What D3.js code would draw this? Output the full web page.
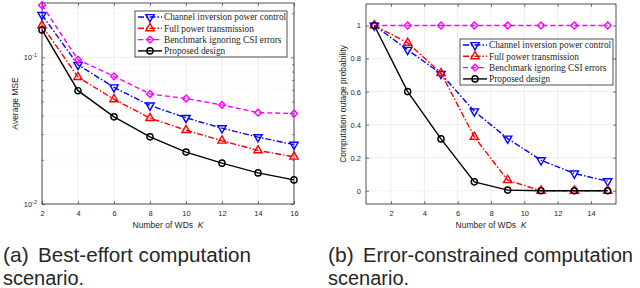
<!DOCTYPE html>
<html>
<head>
<meta charset="utf-8">
<script src="https://d3js.org/d3.v7.min.js"></script>
<style>
  body { margin: 0; background: #fff; }
  svg text { fill: #262626; }
</style>
</head>
<body>
<svg id="chart" width="640" height="288"></svg>
<script>
// series names, shared by both panels
const seriesNames = [
  "Channel inversion power control",
  "Full power transmission",
  "Benchmark ignoring CSI errors",
  "Proposed design"
];

// (a) best-effort: average MSE vs number of WDs
const kA = [2, 4, 6, 8, 10, 12, 14, 16];
const mseChannelInv = [0.195, 0.089, 0.0625, 0.047, 0.0387, 0.0329, 0.0286, 0.0254];
const mseFullPower = [0.165, 0.0734, 0.0518, 0.0385, 0.0319, 0.027, 0.0232, 0.021];
const mseBenchmark = [0.227, 0.0964, 0.0743, 0.0563, 0.0524, 0.0474, 0.042, 0.0414];
const mseProposed = [0.154, 0.0593, 0.0393, 0.0287, 0.0226, 0.019, 0.0163, 0.0146];
const xTicksA = [2, 4, 6, 8, 10, 12, 14, 16];
const yTicksA = [0.01, 0.1];
const yMinorA = [0.02, 0.03, 0.04, 0.05, 0.06, 0.07, 0.08, 0.09, 0.2];

// (b) error-constrained: computation outage probability
const kB = [1, 3, 5, 7, 9, 11, 13, 15];
const outChannelInv = [1, 0.853, 0.708, 0.481, 0.316, 0.185, 0.105, 0.058];
const outFullPower = [1, 0.895, 0.712, 0.326, 0.064, 0, 0, 0];
const outBenchmark = [1, 1, 1, 1, 1, 1, 1, 1];
const outProposed = [1, 0.6, 0.314, 0.054, 0.004, 0, 0, 0];
const xTicksB = [2, 4, 6, 8, 10, 12, 14];
const yTicksB = [0, 0.2, 0.4, 0.6, 0.8, 1];

const captions = [
  ["(a)", "Best-effort computation", "scenario."],
  ["(b)", "Error-constrained computation", "scenario."]
];

const styles = [
  { color: "#0000ff", dash: "6,2,1.5,2", symbol: "down" },
  { color: "#ff0000", dash: "6,2,1.5,2", symbol: "up" },
  { color: "#ff00ff", dash: "5,3", symbol: "diamond" },
  { color: "#000000", dash: null, symbol: "circle" }
];

const svg = d3.select("#chart");
const AXIS = "#262626";
const SANS = "Liberation Sans, Arial, sans-serif";

function markerPath(kind) {
  if (kind === "circle") return d3.symbol(d3.symbolCircle, 30)();
  if (kind === "diamond") return d3.symbol(d3.symbolDiamond2 || d3.symbolSquare, 30)();
  return d3.symbol(d3.symbolTriangle, 30)();
}

function drawPanel(cfg) {
  const g = svg.append("g");
  const x = cfg.x, y = cfg.y;
  const [x0, x1] = x.range();
  const [y0, y1] = y.range(); // y0 bottom, y1 top

  // grid
  if (cfg.minor) {
    g.append("g").selectAll("line").data(cfg.minor).join("line")
      .attr("x1", x0).attr("x2", x1)
      .attr("y1", d => y(d)).attr("y2", d => y(d))
      .attr("stroke", "#e2e2e2").attr("stroke-width", 0.6)
      .attr("stroke-dasharray", "1,1.5");
  }
  g.append("g").selectAll("line").data(cfg.xTicks).join("line")
    .attr("x1", d => x(d)).attr("x2", d => x(d))
    .attr("y1", y0).attr("y2", y1)
    .attr("stroke", "#e6e6e6").attr("stroke-width", 0.7);
  g.append("g").selectAll("line").data(cfg.yTicks).join("line")
    .attr("x1", x0).attr("x2", x1)
    .attr("y1", d => y(d)).attr("y2", d => y(d))
    .attr("stroke", "#e6e6e6").attr("stroke-width", 0.7);

  // axes with inward ticks on all four sides
  g.append("g").attr("transform", `translate(0,${y0})`)
    .call(d3.axisBottom(x).tickValues(cfg.xTicks).tickSizeInner(-3).tickSizeOuter(0).tickPadding(7));
  g.append("g").attr("transform", `translate(0,${y1})`)
    .call(d3.axisTop(x).tickValues(cfg.xTicks).tickSizeInner(-3).tickSizeOuter(0).tickFormat(""));
  const left = g.append("g").attr("transform", `translate(${x0},0)`)
    .call(d3.axisLeft(y).tickValues(cfg.yTicks).tickSizeInner(-3).tickSizeOuter(0).tickPadding(5).tickFormat(cfg.yFormat));
  g.append("g").attr("transform", `translate(${x1},0)`)
    .call(d3.axisRight(y).tickValues(cfg.yTicks).tickSizeInner(-3).tickSizeOuter(0).tickFormat(""));
  if (cfg.minor) {
    g.append("g").attr("transform", `translate(${x0},0)`)
      .call(d3.axisLeft(y).tickValues(cfg.minor).tickSizeInner(-1.8).tickSizeOuter(0).tickFormat(""));
    g.append("g").attr("transform", `translate(${x1},0)`)
      .call(d3.axisRight(y).tickValues(cfg.minor).tickSizeInner(-1.8).tickSizeOuter(0).tickFormat(""));
  }
  g.selectAll(".domain").remove();
  g.selectAll(".tick line").attr("stroke", AXIS).attr("stroke-width", 0.6);
  g.selectAll(".tick text").attr("font-family", SANS)
    .attr("font-size", 7.5).attr("fill", AXIS);
  if (cfg.logLabels) {
    left.selectAll(".tick text").text(null).each(function (d) {
      const t = d3.select(this);
      t.append("tspan").text("10");
      t.append("tspan").attr("dy", -3).attr("font-size", 5.5).text(Math.round(Math.log10(d)));
    });
  }

  // box
  g.append("rect").attr("x", x0).attr("y", y1)
    .attr("width", x1 - x0).attr("height", y0 - y1)
    .attr("fill", "none").attr("stroke", AXIS).attr("stroke-width", 0.8);

  // series
  cfg.series.forEach((vals, i) => {
    const st = styles[i];
    const pts = cfg.xs.map((k, j) => [k, vals[j]]);
    g.append("path").datum(pts)
      .attr("d", d3.line().x(d => x(d[0])).y(d => y(d[1])))
      .attr("fill", "none").attr("stroke", st.color).attr("stroke-width", 1.4)
      .attr("stroke-dasharray", st.dash);
    g.append("g").selectAll("path").data(pts).join("path")
      .attr("d", markerPath(st.symbol))
      .attr("transform", d => `translate(${x(d[0])},${y(d[1])})` + (st.symbol === "down" ? " rotate(180)" : ""))
      .attr("fill", "none").attr("stroke", st.color).attr("stroke-width", 1.4);
  });

  // legend
  const L = cfg.legend;
  const lg = g.append("g").attr("transform", `translate(${L.x},${L.y})`);
  lg.append("rect").attr("width", L.w).attr("height", L.h)
    .attr("fill", "#fff").attr("stroke", AXIS).attr("stroke-width", 0.8);
  seriesNames.forEach((name, i) => {
    const st = styles[i];
    const ry = 6 + i * 11.3;
    lg.append("line").attr("x1", 3).attr("x2", 27).attr("y1", ry).attr("y2", ry)
      .attr("stroke", st.color).attr("stroke-width", 1.4).attr("stroke-dasharray", st.dash);
    lg.append("path").attr("d", markerPath(st.symbol))
      .attr("transform", `translate(15,${ry})` + (st.symbol === "down" ? " rotate(180)" : ""))
      .attr("fill", "none").attr("stroke", st.color).attr("stroke-width", 1.4);
    lg.append("text").attr("x", 29).attr("y", ry + 3.2)
      .attr("font-family", "Liberation Serif, Times New Roman, serif")
      .attr("font-size", 9.3).attr("fill", "#000").text(name);
  });

  // axis labels
  const xl = g.append("text").attr("x", (x0 + x1) / 2).attr("y", 228)
    .attr("text-anchor", "middle").attr("font-family", SANS)
    .attr("font-size", 8.5);
  xl.append("tspan").text("Number of WDs\u00a0\u00a0");
  xl.append("tspan").attr("font-style", "italic").text("K");
  g.append("text").attr("transform", `translate(${cfg.ylabelX},${(y0 + y1) / 2}) rotate(-90)`)
    .attr("text-anchor", "middle").attr("font-family", SANS)
    .attr("font-size", 8.5).text(cfg.ylabel);

  // caption: bigger label, then text, second line below
  const [lab, rest, line2] = cfg.caption;
  svg.append("text").attr("x", cfg.capX).attr("y", 262)
    .attr("font-family", SANS).attr("font-size", 21).attr("fill", "#000").text(lab);
  svg.append("text").attr("x", cfg.capX + 35).attr("y", 262)
    .attr("font-family", SANS).attr("font-size", 20).attr("fill", "#000")
    .attr("textLength", cfg.capW).attr("lengthAdjust", "spacingAndGlyphs").text(rest);
  svg.append("text").attr("x", cfg.capX).attr("y", 285)
    .attr("font-family", SANS).attr("font-size", 20).attr("fill", "#000").text(line2);
}

drawPanel({
  id: "a",
  x: d3.scaleLinear().domain([2, 16]).range([42, 294]),
  y: d3.scaleLog().domain([0.01, 0.235]).range([204, 3]),
  xs: kA,
  series: [mseChannelInv, mseFullPower, mseBenchmark, mseProposed],
  xTicks: xTicksA, yTicks: yTicksA, minor: yMinorA,
  yFormat: d => d, logLabels: true,
  legend: { x: 135, y: 11, w: 152, h: 46 },
  ylabel: "Average MSE", ylabelX: 18,
  caption: captions[0], capX: 3, capW: 213
});

drawPanel({
  id: "b",
  x: d3.scaleLinear().domain([0.5, 15.5]).range([366, 616]),
  y: d3.scaleLinear().domain([-0.08, 1.13]).range([204, 4]),
  xs: kB,
  series: [outChannelInv, outFullPower, outBenchmark, outProposed],
  xTicks: xTicksB, yTicks: yTicksB, minor: null,
  yFormat: d3.format("~g"), logLabels: false,
  legend: { x: 460, y: 39, w: 153, h: 46 },
  ylabel: "Computation outage probability", ylabelX: 346,
  caption: captions[1], capX: 328, capW: 270
});
</script>
</body>
</html>
